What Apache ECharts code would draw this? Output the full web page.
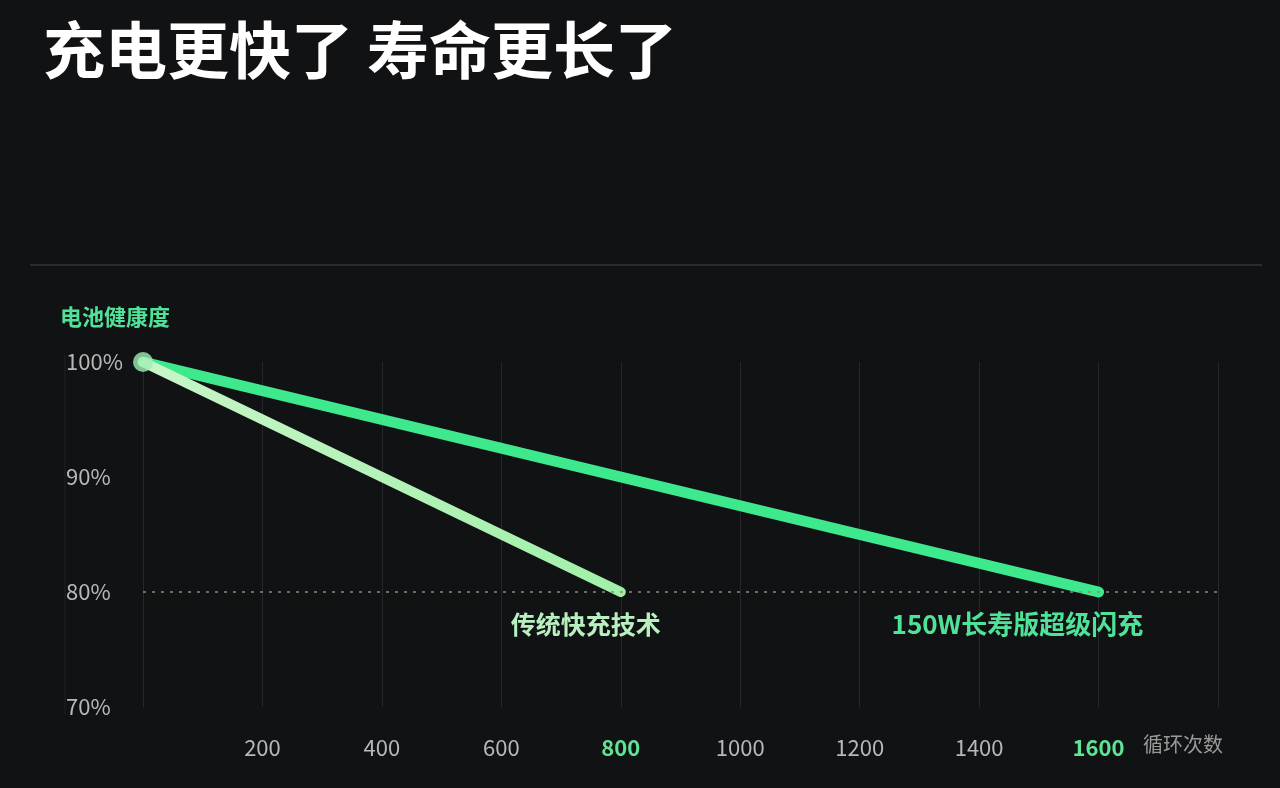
<!DOCTYPE html>
<html><head><meta charset="utf-8">
<script src="https://cdn.jsdelivr.net/npm/echarts@6/dist/echarts.min.js"></script>
<style>html,body{margin:0;background:#111214;}#c{width:1280px;height:788px;}</style></head>
<body><div id="c"></div>
<script>
const title = '充电更快了 寿命更长了';
const xTicks = [200,400,600,800,1000,1200,1400,1600];
const highlightTicks = [800,1600];
const yTicks = [70,80,90,100];
const traditional = [[0,100],[800,80]];
const longLife = [[0,100],[1600,80]];
const tradName = '传统快充技术';
const longName = '150W长寿版超级闪充';
const font = '"Noto Sans CJK SC", sans-serif';
const chart = echarts.init(document.getElementById('c'));
chart.setOption({
  backgroundColor:'#111214',
  animation:false,
  title:{text:title,left:38,top:14,textStyle:{color:'#fff',fontSize:62,fontWeight:'bold',fontFamily:font}},
  graphic:[
    {type:'line',shape:{x1:30,y1:265,x2:1262,y2:265},style:{stroke:'#2a2b2d',lineWidth:2}},
    {type:'line',shape:{x1:65,y1:355,x2:65,y2:715},style:{stroke:'#1f2022',lineWidth:1}},
    {type:'text',left:60,top:306,style:{text:'电池健康度',fill:'#4fe39a',font:'bold 22px '+font}},
    {type:'text',left:1143,top:734,style:{text:'循环次数',fill:'#9a9a9a',font:'20px '+font}}
  ],
  grid:{left:143,right:62,top:362,bottom:81},
  xAxis:{type:'value',min:0,max:1800,interval:200,
    axisLine:{show:false},axisTick:{show:false},
    splitLine:{show:true,lineStyle:{color:'#26272a',width:1}},
    axisLabel:{margin:30,fontFamily:font,fontSize:22,color:'#b8b8b8',
      formatter:v=>(v===0||v===1800)?'':(highlightTicks.includes(v)?'{g|'+v+'}':String(v)),
      rich:{g:{color:'#5fe394',fontSize:22,fontWeight:'bold',fontFamily:font}}}},
  yAxis:{type:'value',min:70,max:100,interval:10,
    axisLine:{show:false},axisTick:{show:false},splitLine:{show:false},
    axisLabel:{color:'#b8b8b8',fontSize:22,fontFamily:font,align:'left',margin:77,formatter:v=>v+'%'}},
  series:[
    {type:'line',data:traditional,symbol:'none',z:3,
      lineStyle:{width:10,cap:'round',color:new echarts.graphic.LinearGradient(0,0,1,0,[{offset:0,color:'#c8f5c8'},{offset:1,color:'#a0f0a8'}])},
      endLabel:{show:true,formatter:tradName,color:'#b8f0c0',fontSize:25,fontWeight:'bold',fontFamily:font,offset:[-118,32]},
      markLine:{silent:true,symbol:'none',label:{show:false},lineStyle:{type:[3,6],color:'#8a8a7a',width:1.5},
        data:[[{coord:[0,80]},{coord:[1800,80]}]]}},
    {type:'line',data:longLife,symbol:'none',z:2,
      lineStyle:{width:11,cap:'round',color:'#3ee88c'},
      endLabel:{show:true,formatter:longName,color:'#4fe39a',fontSize:26,fontWeight:'bold',fontFamily:font,offset:[-215,32]}},
    {type:'scatter',data:[[0,100]],symbolSize:20,itemStyle:{color:'#9ef0b4'},z:5}
  ]
});
</script></body></html>
